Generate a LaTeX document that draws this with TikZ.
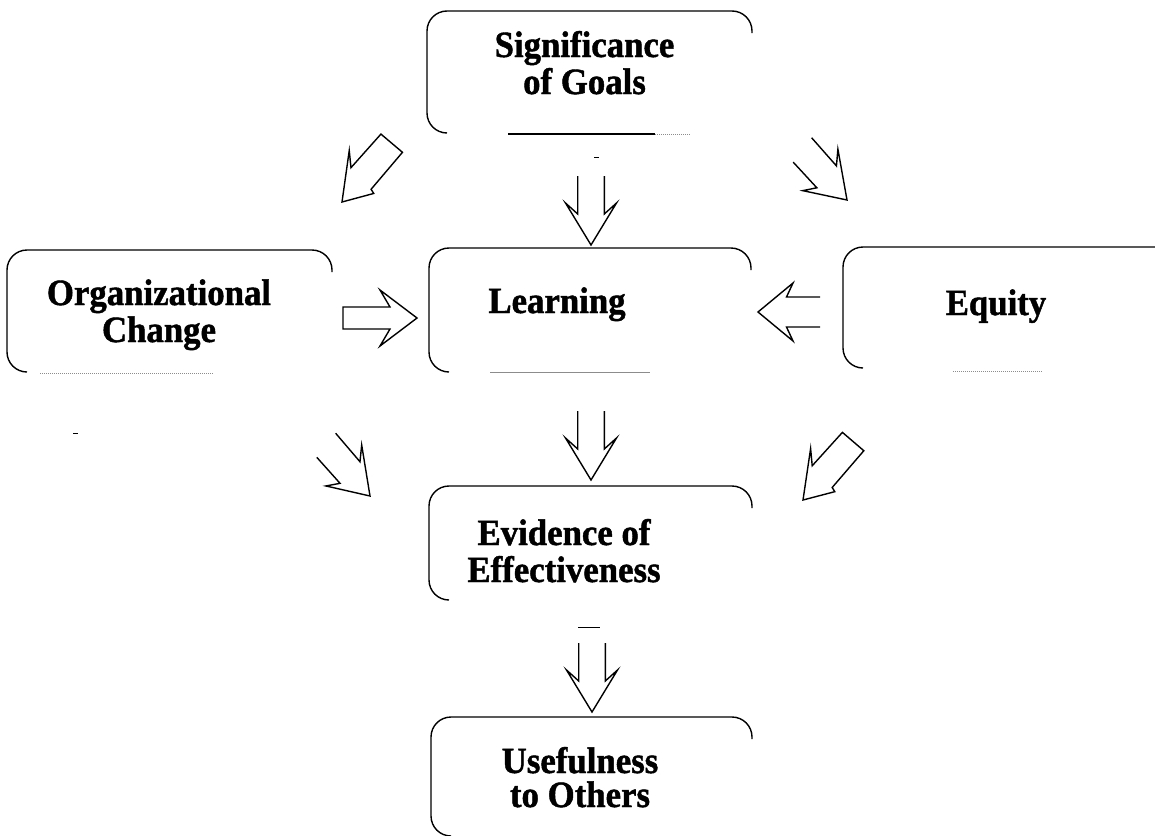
\documentclass[tikz,border=0pt]{standalone}
\usepackage{fontspec}
\setmainfont{Liberation Serif}
\newfontfamily\lblfont[FakeStretch=0.94,FakeBold=1.2]{Liberation Serif}
\usetikzlibrary{calc}
\newcommand\boxoutline[1]{\draw[boxline] ($(#1.south west)+(20,0)$) -- (#1.south west) -- (#1.north west) -- (#1.north east) -- ($(#1.north east)+(0,22)$);}
\begin{document}
\begin{tikzpicture}[x=1pt,y=-1pt,
  boxline/.style={line width=1.4pt, rounded corners=20pt},
  faint/.style={line width=1pt, black!45},
  arr/.style={line width=1.4pt, line join=miter},
  boxarea/.style={draw=none, inner sep=0pt, outer sep=0pt},
  lbl/.style={font=\lblfont\bfseries\fontsize{37}{37}\selectfont, align=center, anchor=base, inner sep=0pt},
  pics/downarr/.style={code={\draw[arr] (-69,13.3) -- (-31,13.3) -- (-42,25.5) -- (0,0) -- (-42,-25.5) -- (-31,-13.3) -- (-69,-13.3);}},
  pics/leftarr/.style={code={\draw[arr] (-62,15) -- (-28.5,15) -- (-35,29) -- (0,0) -- (-35,-29) -- (-28.5,-15) -- (-62,-15);}},
  pics/rightarr/.style={code={\draw[arr] (-74,11) -- (-27,11) -- (-37,28) -- (0,0) -- (-37,-28) -- (-27,-11) -- (-74,-11) -- cycle;}},
  pics/fatarr/.style={code={\draw[arr] (0,0) -- (-44,27.7) -- (-32,15.3) -- (-77,14.1) -- (-77,-14.1) -- (-28.5,-14) -- (-27,-18.7) -- cycle;}},
  pics/thinarr/.style={code={\draw[arr] (-70,-15) -- (-32.5,-14.8) -- (-44,-27) -- (0,0) -- (-36.4,26.8) -- (-29.2,14.4) -- (-64,15);}}
]
\useasboundingbox (0,0) rectangle (1155,835);
\fill[white] (0,0) rectangle (1155,835);

% boxes
\node[boxarea, minimum width=325pt, minimum height=122pt] (sig) at (589.5,72) {};
\node[boxarea, minimum width=325pt, minimum height=122pt] (org) at (169.5,311) {};
\node[boxarea, minimum width=322pt, minimum height=124pt] (learn) at (590,310) {};
\node[boxarea, minimum width=332pt, minimum height=121pt] (equity) at (1009,307.5) {};
\node[boxarea, minimum width=323pt, minimum height=114pt] (evid) at (590.5,543) {};
\node[boxarea, minimum width=321pt, minimum height=119pt] (use) at (591.5,776.5) {};

\boxoutline{sig}
\boxoutline{org}
\boxoutline{learn}
\boxoutline{equity}
\boxoutline{evid}
\boxoutline{use}

% faint bottom edges
\draw[line width=1.2pt] (508,134) -- (655,134);
\draw[faint, densely dotted] (655,134) -- (690,134);
\draw[faint, densely dotted] (40,373) -- (213,373);
\draw[faint] (490,372) -- (650,372);
\draw[faint, densely dotted] (953,371) -- (1043,371);

% labels (anchor base = baseline of the last line)
\node[lbl] (sigt) at (584.5,94) {Significance\\of Goals};
\node[lbl] (orgt) at (159,342) {Organizational\\Change};
\node[lbl] (learnt) at (557,313) {Learning};
\node[lbl] (eqt) at (996,315) {Equity};
\node[lbl] (evidt) at (564,582) {Evidence of\\Effectiveness};
\node[lbl, font=\lblfont\bfseries\fontsize{37}{34}\selectfont] (uset) at (580,807) {Usefulness\\to Others};

% arrow tips
\coordinate (tipSigLearn) at (591,245);
\coordinate (tipLearnEvid) at (591,480);
\coordinate (tipEvidUse) at (592,712);
\coordinate (tipSigOrg) at (342,202);
\coordinate (tipSigEq) at (847,200);
\coordinate (tipOrgLearn) at (417,318);
\coordinate (tipEqLearn) at (758,312);
\coordinate (tipOrgEvid) at (370,496);
\coordinate (tipEqEvid) at (803,500);

\pic[rotate=-90] at (tipSigLearn) {downarr};
\pic[rotate=-90] at (tipLearnEvid) {downarr};
\pic[rotate=-90] at (tipEvidUse) {downarr};
\pic[rotate=0] at (tipOrgLearn) {rightarr};
\pic[rotate=180] at (tipEqLearn) {leftarr};
\pic[rotate=-130.2] at (tipSigOrg) {fatarr};
\pic[rotate=-130.6] at (tipEqEvid) {fatarr};
\pic[rotate=-48.3] at (tipSigEq) {thinarr};
\pic[rotate=-49.2] at (tipOrgEvid) {thinarr};

% small marks
\draw[line width=0.8pt] (578,627) -- (600,627);
\draw[line width=0.8pt] (594,157) -- (599,157);
\draw[line width=0.8pt] (73,433) -- (78,433);
\end{tikzpicture}
\end{document}
